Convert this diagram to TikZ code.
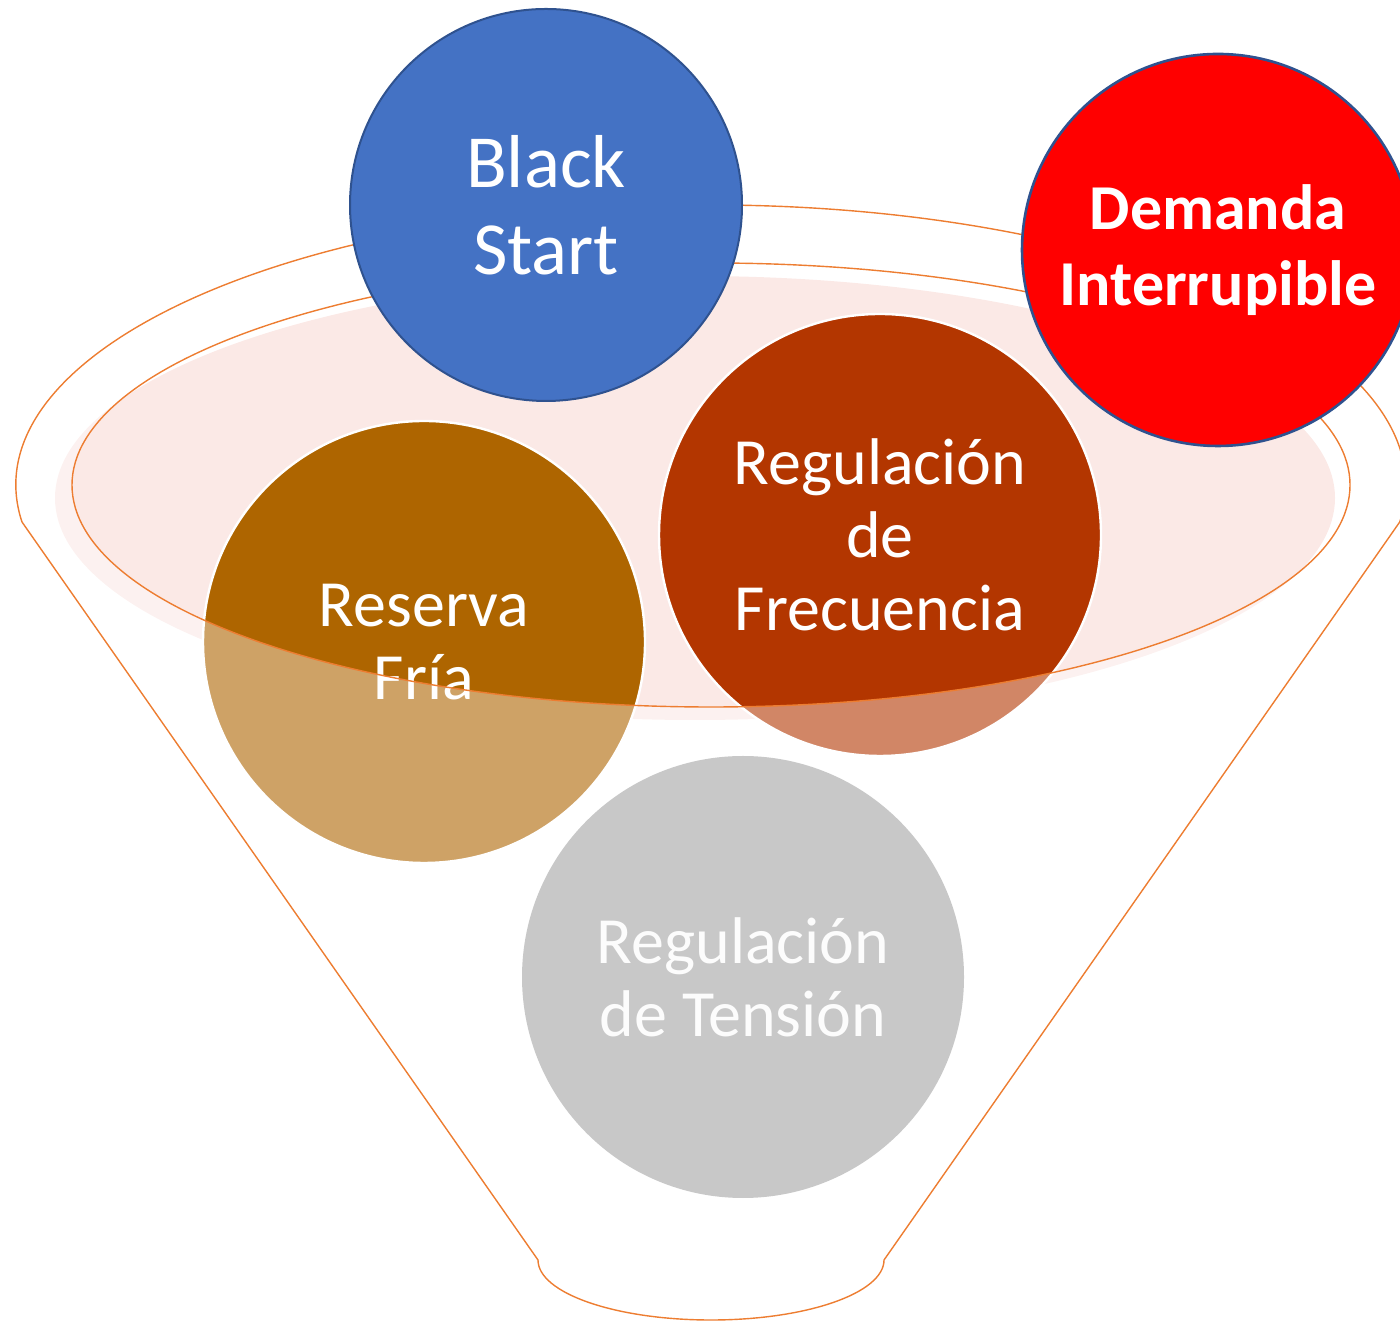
\documentclass[tikz,border=0pt]{standalone}
\usepackage{fontspec}
\setmainfont{Carlito}
\usepackage{tikz}

\definecolor{embudo}{RGB}{237,125,49}
\definecolor{rosa}{RGB}{251,233,230}
\definecolor{azul}{RGB}{68,114,196}
\definecolor{azulborde}{RGB}{47,82,143}
\definecolor{ocre}{RGB}{174,101,0}
\definecolor{teja}{RGB}{179,54,0}
\definecolor{gris}{RGB}{200,200,200}

\begin{document}
\begin{tikzpicture}[x=0.5pt, y=0.5pt]
	\tikzstyle{ball} = [circle, inner sep=0pt, align=center, text=white]
	\tikzstyle{big} = [ball, minimum size=221pt, font=\fontsize{33}{36.5}\selectfont]
	\tikzstyle{small} = [ball, minimum size=196pt]
	\tikzstyle{funnel} = [draw=embudo, line width=0.7pt]

	\useasboundingbox (0,0) rectangle (1400,1321);
	\clip (0,0) rectangle (1400,1321);

	% boca del embudo
	\fill[rosa] (695,823) ellipse [x radius=320pt, y radius=111pt];

	\node[big, fill=ocre, draw=white, line width=1.2pt] (reserva) at (424,679) {Reserva\\Fría};
	\node[big, fill=teja, draw=white, line width=1.2pt] (frecuencia) at (880,786) {Regulación\\de\\Frecuencia};

	% cuerpo del embudo (velo blanco)
	\fill[white, opacity=0.4, even odd rule]
		(22,799) arc[start angle=187.6, end angle=-7.6, x radius=347.5pt, y radius=140pt]
		-- (884,61) arc[start angle=0, end angle=-180, x radius=86.5pt, y radius=30pt]
		-- cycle
		(711,836) ellipse [x radius=319.5pt, y radius=111pt];
	\draw[funnel]
		(22,799) arc[start angle=187.6, end angle=-7.6, x radius=347.5pt, y radius=140pt]
		-- (884,61) arc[start angle=0, end angle=-180, x radius=86.5pt, y radius=30pt]
		-- cycle;
	\draw[funnel] (711,836) ellipse [x radius=319.5pt, y radius=111pt];

	\node[big, fill=gris, text=white!95!gris] (tension) at (743,344) {Regulación\\de Tensión};
	\node[small, fill=azul, draw=azulborde, line width=1pt, font=\fontsize{37.5}{43.5}\selectfont] (blackstart) at (546,1116) {Black\\Start};
	\node[small, fill=red, draw=azulborde, line width=1.3pt, font=\bfseries\fontsize{32}{38}\selectfont] (demanda) at (1218,1071) {Demanda\\Interrupible};
\end{tikzpicture}
\end{document}
